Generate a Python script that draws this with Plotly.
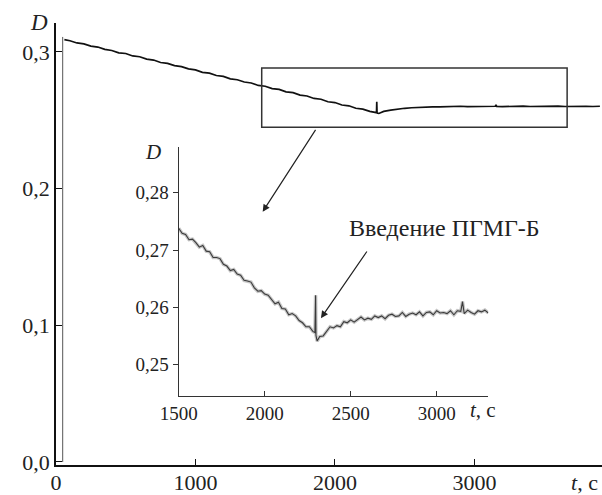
import plotly.graph_objects as go

# ---------------- data ----------------
rise_t = [48, 48]
rise_d = [0.0, 0.311]

main_t = [60, 100, 150, 200, 250, 300, 350, 400, 450, 500, 550, 600, 650, 700, 750, 800,
          850, 900, 950, 1000, 1050, 1100, 1150, 1200, 1250, 1300, 1350, 1400, 1450, 1500,
          1550, 1600, 1650, 1700, 1750, 1800, 1850, 1900, 1950, 2000, 2050, 2100, 2150, 2200,
          2250, 2290, 2298, 2300, 2302, 2315, 2350, 2400, 2450, 2500, 2550, 2600, 2650, 2700,
          2750, 2800, 2850, 2900, 2950, 3000, 3050, 3100, 3150, 3155, 3160, 3200, 3250, 3300,
          3350, 3400, 3450, 3500, 3550, 3600, 3650, 3700, 3750, 3800, 3850, 3900]
main_d = [0.3090, 0.3082, 0.3066, 0.3059, 0.3043, 0.3036, 0.3019, 0.3011, 0.2994, 0.2989,
          0.2971, 0.2965, 0.2948, 0.2941, 0.2923, 0.2917, 0.2900, 0.2893, 0.2876, 0.2869,
          0.2851, 0.2845, 0.2828, 0.2821, 0.2803, 0.2797, 0.2780, 0.2773, 0.2755, 0.2749,
          0.2732, 0.2726, 0.2708, 0.2702, 0.2684, 0.2678, 0.2660, 0.2654, 0.2636, 0.2630,
          0.2612, 0.2606, 0.2588, 0.2582, 0.2565, 0.2558, 0.2556, 0.2635, 0.2553, 0.2550,
          0.2565, 0.2575, 0.2583, 0.2588, 0.2592, 0.2595, 0.2597, 0.2599, 0.2598, 0.2601,
          0.2600, 0.2603, 0.2600, 0.2602, 0.2604, 0.2601, 0.2603, 0.2612, 0.2602, 0.2600,
          0.2603, 0.2601, 0.2604, 0.2601, 0.2603, 0.2600, 0.2602, 0.2604, 0.2601, 0.2603,
          0.2600, 0.2602, 0.2601, 0.2603]

inset_t = [1500, 1520, 1540, 1560, 1580, 1600, 1620, 1640, 1660, 1680, 1700, 1720, 1740, 1760,
           1780, 1800, 1820, 1840, 1860, 1880, 1900, 1920, 1940, 1960, 1980, 2000, 2020, 2040,
           2060, 2080, 2100, 2120, 2140, 2160, 2180, 2200, 2220, 2240, 2260, 2280, 2292, 2296,
           2298, 2305, 2312,
           2320, 2340, 2360, 2380, 2400, 2420, 2440, 2460, 2480, 2500, 2520, 2540, 2560, 2580,
           2600, 2620, 2640, 2660, 2680, 2700, 2720, 2740, 2760, 2780, 2800, 2820, 2840, 2860,
           2880, 2900, 2920, 2940, 2960, 2980, 3000, 3020, 3040, 3060, 3080, 3100, 3120, 3140,
           3150, 3160, 3180, 3200, 3220, 3240, 3260, 3280, 3300]
inset_d = [0.2738, 0.2729, 0.2727, 0.2718, 0.2719, 0.2713, 0.2705, 0.2708, 0.2698, 0.2697,
           0.2687, 0.2687, 0.2685, 0.2675, 0.2672, 0.2664, 0.2666, 0.2658, 0.2656, 0.2647,
           0.2646, 0.2644, 0.2634, 0.2628, 0.2629, 0.2623, 0.2621, 0.2613, 0.2606, 0.2609,
           0.2598, 0.2597, 0.2587, 0.2589, 0.2585, 0.2577, 0.2573, 0.2566, 0.2566, 0.2558,
           0.2556, 0.2621, 0.2551, 0.2541, 0.2546,
           0.2549, 0.2550, 0.2559, 0.2566, 0.2564, 0.2568, 0.2566, 0.2575, 0.2573, 0.2578,
           0.2574, 0.2579, 0.2583, 0.2578, 0.2581, 0.2579, 0.2585, 0.2582, 0.2585, 0.2580,
           0.2586, 0.2588, 0.2584, 0.2585, 0.2591, 0.2584, 0.2588, 0.2590, 0.2587, 0.2592,
           0.2585, 0.2591, 0.2592, 0.2587, 0.2594, 0.2590, 0.2591, 0.2589, 0.2594, 0.2587,
           0.2594, 0.2593, 0.2610, 0.2589, 0.2595, 0.2591, 0.2588, 0.2594, 0.2592, 0.2595,
           0.2590]

main_xticks = [0, 1000, 2000, 3000]
main_xtext = ["0", "1000", "2000", "3000"]
main_yticks = [0.0, 0.1, 0.2, 0.3]
main_ytext = ["0,0", "0,1", "0,2", "0,3"]
inset_xticks = [1500, 2000, 2500, 3000]
inset_xtext = ["1500", "2000", "2500", "3000"]
inset_yticks = [0.25, 0.26, 0.27, 0.28]
inset_ytext = ["0,25", "0,26", "0,27", "0,28"]

annot_text = "Введение ПГМГ-Б"
x_title = "<i>t</i>, с"
y_title = "<i>D</i>"

FONT = "Times New Roman"
W, H = 602, 495

def px(x):
    return x / W

def py(y):
    return (H - y) / H

fig = go.Figure()
fig.add_trace(go.Scatter(x=rise_t, y=rise_d, mode="lines",
                         line=dict(color="#555", width=1), xaxis="x", yaxis="y",
                         showlegend=False, hoverinfo="skip"))
fig.add_trace(go.Scatter(x=main_t, y=main_d, mode="lines",
                         line=dict(color="#111", width=1.7), xaxis="x", yaxis="y",
                         showlegend=False))
# soft grey halo of the noisy signal, then its dark core
fig.add_trace(go.Scatter(x=inset_t, y=inset_d, mode="lines",
                         line=dict(color="rgba(0,0,0,0.22)", width=3.5), xaxis="x2",
                         yaxis="y2", showlegend=False, hoverinfo="skip"))
fig.add_trace(go.Scatter(x=inset_t, y=inset_d, mode="lines",
                         line=dict(color="#3a3a3a", width=1.1), xaxis="x2", yaxis="y2",
                         showlegend=False))

axis_font = dict(family=FONT, size=22, color="#222")
inset_font = dict(family=FONT, size=19, color="#222")

fig.update_layout(
    width=W, height=H,
    font=dict(family=FONT),
    margin=dict(l=0, r=0, t=0, b=0, autoexpand=False),
    paper_bgcolor="white", plot_bgcolor="rgba(0,0,0,0)",
    showlegend=False,
    xaxis=dict(domain=[px(56), 1.0], range=[0, 3915], showgrid=False, zeroline=False,
               showline=True, linecolor="#111", linewidth=1.5, automargin=False,
               ticks="inside", ticklen=6, tickwidth=1.2, tickcolor="#111",
               tickvals=main_xticks, ticktext=main_xtext, tickfont=axis_font,
               ticklabelstandoff=-3, anchor="y"),
    yaxis=dict(domain=[py(465), py(23)], range=[-0.0022, 0.3212], showgrid=False,
               zeroline=False, showline=True, linecolor="#111", linewidth=1.5,
               automargin=False,
               ticks="inside", ticklen=6, tickwidth=1.2, tickcolor="#111",
               tickvals=main_yticks, ticktext=main_ytext, tickfont=axis_font,
               anchor="x"),
    xaxis2=dict(domain=[px(178.7), px(488.3)], range=[1500, 3300], showgrid=False,
                zeroline=False, showline=True, linecolor="#333", linewidth=1.2,
                automargin=False,
                ticks="inside", ticklen=5, tickwidth=1, tickcolor="#333",
                tickvals=inset_xticks, ticktext=inset_xtext, tickfont=inset_font,
                anchor="y2"),
    yaxis2=dict(domain=[py(395.7), py(147)], range=[0.24457, 0.28798], showgrid=False,
                zeroline=False, showline=True, linecolor="#333", linewidth=1.2,
                automargin=False,
                ticks="outside", ticklen=5, tickwidth=1, tickcolor="#333",
                tickvals=inset_yticks, ticktext=inset_ytext, tickfont=inset_font,
                anchor="x2"),
)

fig.add_shape(type="rect", xref="x", yref="y", x0=1475, x1=3665, y0=0.2449, y1=0.2882,
              line=dict(color="#333", width=1.5), fillcolor="rgba(0,0,0,0)")

fig.add_annotation(xref="x", yref="y", axref="x", ayref="y",
                   x=1482, y=0.1831, ax=1868, ay=0.2441, text="",
                   showarrow=True, arrowhead=2, arrowsize=1.2, arrowwidth=1.2,
                   arrowcolor="#222")
fig.add_annotation(xref="x2", yref="y2", axref="x2", ayref="y2",
                   x=2327, y=0.2581, ax=2600, ay=0.2700, text="",
                   showarrow=True, arrowhead=2, arrowsize=1.2, arrowwidth=1.2,
                   arrowcolor="#222")
fig.add_annotation(xref="x2", yref="y2", x=2477, y=0.2738, text=annot_text,
                   showarrow=False, xanchor="left", yanchor="middle",
                   font=dict(family=FONT, size=24, color="#222"))

fig.add_annotation(xref="paper", yref="paper", x=px(39), y=py(23), text=y_title,
                   showarrow=False, xanchor="center", yanchor="middle",
                   font=dict(family=FONT, size=23, color="#222"))
fig.add_annotation(xref="paper", yref="paper", x=px(600), y=py(482), text=x_title,
                   showarrow=False, xanchor="right", yanchor="middle",
                   font=dict(family=FONT, size=22, color="#222"))
fig.add_annotation(xref="paper", yref="paper", x=px(153), y=py(152), text=y_title,
                   showarrow=False, xanchor="center", yanchor="middle",
                   font=dict(family=FONT, size=21, color="#222"))
fig.add_annotation(xref="paper", yref="paper", x=px(498), y=py(410), text=x_title,
                   showarrow=False, xanchor="right", yanchor="middle",
                   font=dict(family=FONT, size=21, color="#222"))

fig.write_html("out.html", config={"displayModeBar": False},
               post_script="document.body.style.margin='0';document.body.style.padding='0';")
